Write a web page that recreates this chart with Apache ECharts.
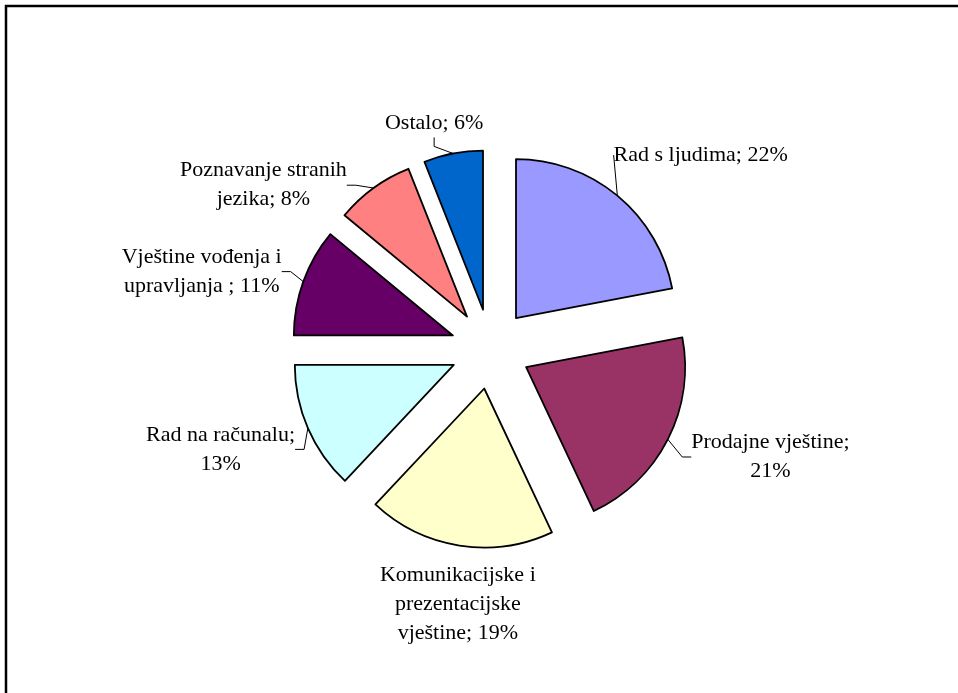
<!DOCTYPE html>
<html>
<head>
<meta charset="utf-8">
<script src="https://cdn.jsdelivr.net/npm/echarts@6/dist/echarts.min.js"></script>
<style>
    html, body { margin: 0; padding: 0; background: #fff; }
    #chart { width: 958px; height: 693px; }
</style>
</head>
<body>
<div id="chart"></div>
<script>
(function(){
    var categories = ['Rad s ljudima', 'Prodajne vještine', 'Komunikacijske i\nprezentacijske\nvještine',
        'Rad na računalu', 'Vještine vođenja i\nupravljanja ', 'Poznavanje stranih\njezika', 'Ostalo'];
    var values = [22, 21, 19, 13, 11, 8, 6];
    var colors = ['#9999ff', '#993366', '#ffffcc', '#ccffff', '#660066', '#ff8080', '#0066cc'];
    // what goes between ';' and the percent
    var separators = [' ', '\n', ' ', '\n', ' ', ' ', ' '];
    // leader line drawn or not
    var leaders = [true, true, false, true, true, true, true];

    // label placement around the pie centre: distance and turn from slice middle (deg)
    var labelRadius = [286, 300, 257, 288, 299, 280, 233];
    var labelTurn = [7.7, -5.9, -1.7, 3, -4.8, -18.2, -3.2];

    var cx = 490.5, cy = 349, radius = 159, explode = 40;

    var total = 0;
    values.forEach(function(v) { total += v; });
    var midAngles = [];
    var acc = 0;
    values.forEach(function(v) {
        midAngles.push((acc + v / 2) / total * 360);
        acc += v;
    });

    var pieData = categories.map(function(name, i) {
        return {
            name: name,
            value: values[i],
            selected: true,
            itemStyle: { color: colors[i] }
        };
    });
    // same values again, only to carry the labels (selected slices reset label positions)
    var labelData = categories.map(function(name, i) {
        return { name: name, value: values[i], labelLine: { show: leaders[i] } };
    });

    var dom = document.getElementById('chart');
    var myChart = echarts.init(dom, null, { renderer: 'canvas' });
    var option = {
        animation: false,
        backgroundColor: '#fff',
        graphic: [{
            type: 'rect',
            shape: { x: 6, y: 6, width: 1000, height: 800 },
            style: { fill: 'none', stroke: '#000', lineWidth: 2.5 },
            silent: true
        }],
        series: [{
            type: 'pie',
            center: [cx, cy],
            radius: radius,
            startAngle: 90,
            clockwise: true,
            selectedMode: 'multiple',
            selectedOffset: explode,
            emphasis: { disabled: true },
            itemStyle: { borderColor: '#000', borderWidth: 1.8 },
            label: { show: false },
            labelLine: { show: false },
            data: pieData,
            z: 2
        }, {
            type: 'pie',
            silent: true,
            center: [cx, cy],
            radius: radius + explode,
            startAngle: 90,
            clockwise: true,
            avoidLabelOverlap: false,
            emphasis: { disabled: true },
            itemStyle: { color: 'rgba(0,0,0,0)', borderWidth: 0 },
            label: {
                show: true,
                position: 'outside',
                color: '#000',
                fontFamily: 'Liberation Serif',
                fontSize: 22,
                lineHeight: 29,
                align: 'center',
                formatter: function(p) {
                    return p.name + ';' + separators[p.dataIndex] + p.value + '%';
                }
            },
            labelLine: {
                show: true,
                length: 8,
                length2: 9,
                lineStyle: { color: '#000', width: 1 }
            },
            labelLayout: function(params) {
                var i = params.dataIndex;
                var a = (midAngles[i] + labelTurn[i]) * Math.PI / 180;
                return {
                    x: cx + labelRadius[i] * Math.sin(a),
                    y: cy - labelRadius[i] * Math.cos(a),
                    align: 'center',
                    verticalAlign: 'middle'
                };
            },
            data: labelData,
            z: 1
        }]
    };
    myChart.setOption(option);
})();
</script>
</body>
</html>
